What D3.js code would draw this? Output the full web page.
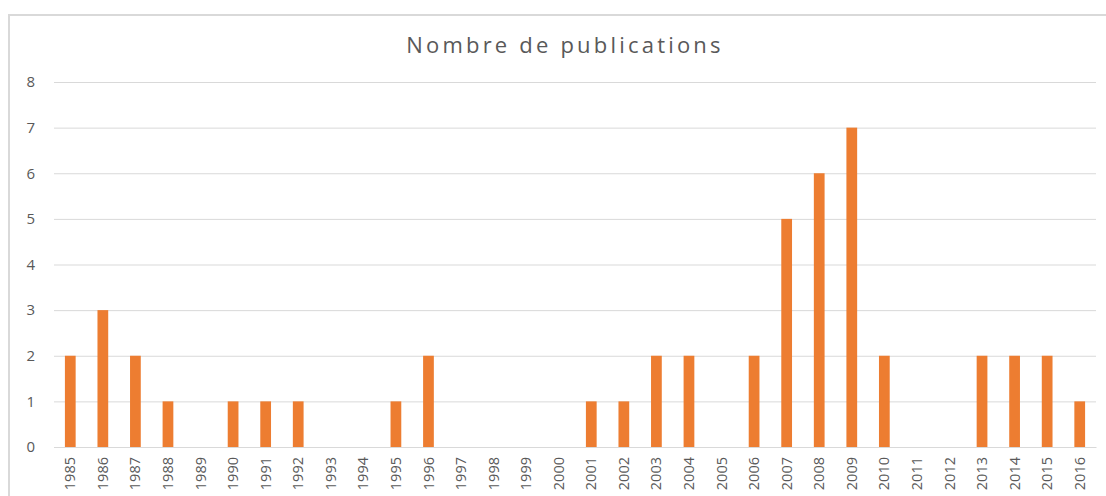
<!DOCTYPE html>
<html>
<head>
<meta charset="utf-8">
<script src="https://cdn.jsdelivr.net/npm/d3@7"></script>
<style>
  body { margin: 0; background: #fff; }
  text { font-family: "Open Sans", "Liberation Sans", sans-serif; fill: #595959; }
</style>
</head>
<body>
<svg id="chart" width="1106" height="496"></svg>
<script>
// ---- data ----
const years = ["1985","1986","1987","1988","1989","1990","1991","1992","1993","1994",
  "1995","1996","1997","1998","1999","2000","2001","2002","2003","2004","2005",
  "2006","2007","2008","2009","2010","2011","2012","2013","2014","2015","2016"];
const publications = [2,3,2,1,0,1,1,1,0,0,1,2,0,0,0,0,1,1,2,2,0,2,5,6,7,2,0,0,2,2,2,1];
const yTicks = [0,1,2,3,4,5,6,7,8];
const title = "Nombre de publications";

const data = years.map((y, i) => ({ year: y, value: publications[i] }));

const svg = d3.select("#chart");
const width = +svg.attr("width");
const height = +svg.attr("height");

// chart frame (only left/top edges visible in the crop)
svg.append("path")
  .attr("d", `M9,${height} V15 H${width}`)
  .attr("fill", "none")
  .attr("stroke", "#d9d9d9")
  .attr("stroke-width", 2);

const margin = { top: 82, right: 10, bottom: 49, left: 54 };
const innerWidth = width - margin.left - margin.right;
const innerHeight = height - margin.top - margin.bottom;

const g = svg.append("g")
  .attr("transform", `translate(${margin.left},${margin.top})`);

const x = d3.scaleBand()
  .domain(years)
  .range([0, innerWidth])
  .paddingInner(0.67)
  .paddingOuter(0.335);

const y = d3.scaleLinear()
  .domain([0, 8])
  .range([innerHeight, 0]);

// gridlines
g.append("g")
  .call(d3.axisLeft(y).tickValues(yTicks).tickSize(-innerWidth).tickFormat(""))
  .call((g) => g.select(".domain").remove())
  .call((g) => g.selectAll("line").attr("stroke", "#d9d9d9").attr("stroke-width", 1));

// y labels
g.append("g")
  .call(d3.axisLeft(y).tickValues(yTicks).tickSize(0).tickPadding(19))
  .call((g) => g.select(".domain").remove())
  .call((g) => g.selectAll("text")
    .style("font-size", "15px")
    .style("font-family", '"Open Sans", sans-serif')
    .style("fill", "#595959"));

// bars
g.selectAll("rect.bar")
  .data(data)
  .join("rect")
  .attr("class", "bar")
  .attr("x", (d) => x(d.year))
  .attr("y", (d) => y(d.value))
  .attr("width", x.bandwidth())
  .attr("height", (d) => innerHeight - y(d.value))
  .attr("fill", "#ed7d31");

// x axis
g.append("g")
  .attr("transform", `translate(0,${innerHeight})`)
  .call(d3.axisBottom(x).tickSize(0).tickPadding(0))
  .call((g) => g.select(".domain").attr("stroke", "#d9d9d9"))
  .call((g) => g.selectAll("text")
    .style("font-size", "14.5px")
    .style("font-family", '"Open Sans", sans-serif')
    .style("fill", "#595959")
    .attr("transform", "rotate(-90)")
    .attr("text-anchor", "end")
    .attr("dy", "0.35em")
    .attr("x", -10)
    .attr("y", 0));

// title
svg.append("text")
  .attr("x", 565)
  .attr("y", 53)
  .attr("text-anchor", "middle")
  .style("font-size", "22px")
  .attr("letter-spacing", 3.2)
  .text(title);
</script>
</body>
</html>
